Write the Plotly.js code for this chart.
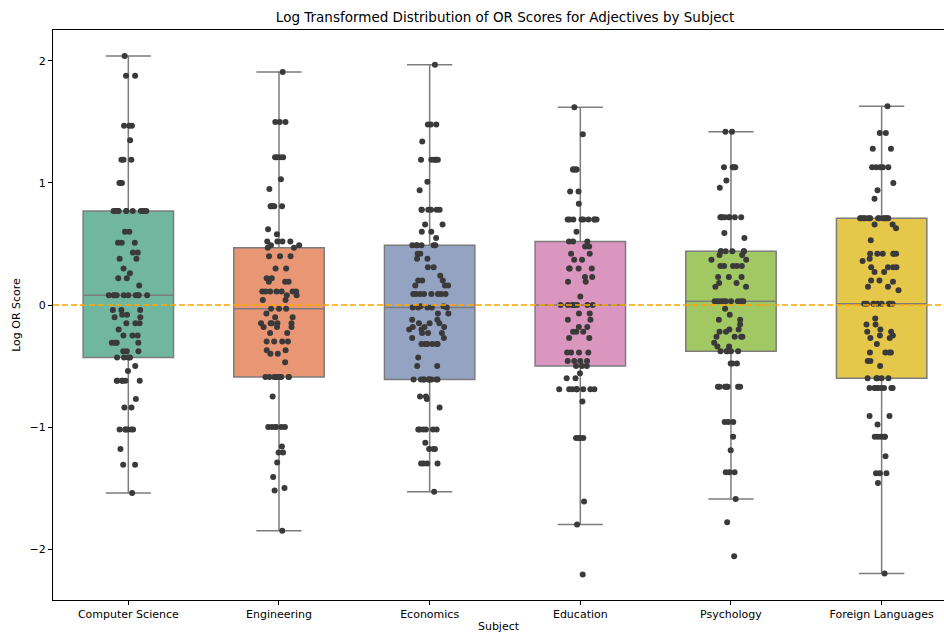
<!DOCTYPE html>
<html>
<head>
<meta charset="utf-8">
<script src="https://cdn.plot.ly/plotly-3.0.1.min.js"></script>
<style>html,body{margin:0;padding:0;background:#fff;}#chart{width:944px;height:633px;}</style>
</head>
<body>
<div id="chart"></div>
<script>
// Categories (x axis tick labels)
const categories = ["Computer Science", "Engineering", "Economics", "Education", "Psychology", "Foreign Languages"];

// Log OR scores per subject
const computerScience = [2.04, 1.88, 1.88, 1.47, 1.47, 1.47, 1.35, 1.19, 1.19, 1.19, 1.0, 1.0, 1.0,
  0.77, 0.77, 0.77, 0.77, 0.77, 0.77, 0.77, 0.77, 0.77, 0.77, 0.77, 0.77,
  0.60, 0.60, 0.51, 0.51, 0.51, 0.43, 0.43, 0.38, 0.38, 0.30, 0.26, 0.22, 0.22, 0.16,
  0.08, 0.08, 0.08, 0.08, 0.08, 0.08, 0.08, 0.08, 0.08, 0.08,
  -0.04, -0.04, -0.04, -0.08, -0.08, -0.10, -0.10, -0.15, -0.15, -0.15, -0.20,
  -0.25, -0.25, -0.25, -0.31, -0.31, -0.31, -0.31, -0.38, -0.38, -0.38,
  -0.43, -0.43, -0.43, -0.43,
  -0.50, -0.54, -0.62, -0.62, -0.62, -0.62, -0.62, -0.62, -0.77, -0.84, -0.84,
  -1.02, -1.02, -1.02, -1.02, -1.02, -1.02, -1.18, -1.31, -1.31, -1.54];

const engineering = [1.91, 1.50, 1.50, 1.50, 1.21, 1.21, 1.21, 1.21, 1.03, 0.95,
  0.81, 0.81, 0.81, 0.81, 0.81, 0.62, 0.58, 0.52, 0.52, 0.52, 0.52, 0.49, 0.49, 0.47, 0.47,
  0.40, 0.40, 0.40, 0.30, 0.30, 0.22, 0.22, 0.19, 0.19, 0.19,
  0.11, 0.11, 0.11, 0.11, 0.11, 0.11, 0.11, 0.08, 0.08, 0.04, 0.04,
  -0.03, -0.03, -0.03, -0.07, -0.10, -0.10, -0.15, -0.15, -0.15, -0.15, -0.15, -0.18, -0.18, -0.18,
  -0.23, -0.23, -0.30, -0.30, -0.30, -0.30, -0.37, -0.37, -0.40, -0.40, -0.47,
  -0.59, -0.59, -0.59, -0.59, -0.59, -0.59, -0.59, -0.59, -0.59, -0.59, -0.59, -0.75,
  -1.00, -1.00, -1.00, -1.00, -1.00, -1.00, -1.16, -1.21, -1.21, -1.29, -1.41, -1.52, -1.50, -1.85];

const economics = [1.97, 1.48, 1.48, 1.48, 1.34, 1.19, 1.19, 1.19, 1.19, 1.19, 1.01, 0.94,
  0.78, 0.78, 0.78, 0.78, 0.78, 0.78, 0.66, 0.66, 0.60, 0.60, 0.55,
  0.49, 0.49, 0.49, 0.49, 0.49, 0.49, 0.42, 0.42, 0.38, 0.38, 0.31, 0.31, 0.24, 0.20, 0.20, 0.20,
  0.16, 0.16, 0.16, 0.09, 0.09, 0.09, 0.09, 0.09, 0.09, 0.09, 0.09,
  -0.01, -0.01, -0.02, -0.02, -0.02, -0.02, -0.02, -0.07, -0.07, -0.12, -0.12, -0.15, -0.15, -0.15,
  -0.18, -0.18, -0.18, -0.20, -0.20, -0.23, -0.23, -0.23, -0.27, -0.27,
  -0.32, -0.32, -0.32, -0.32, -0.32, -0.32, -0.43, -0.50, -0.50,
  -0.61, -0.61, -0.61, -0.61, -0.61, -0.61, -0.61, -0.61, -0.61, -0.61,
  -0.75, -0.75, -0.77, -0.84,
  -1.02, -1.02, -1.02, -1.02, -1.02, -1.02, -1.13, -1.18, -1.18, -1.18,
  -1.30, -1.30, -1.30, -1.30, -1.53];

const education = [1.62, 1.40, 1.11, 1.11, 1.11, 1.11, 1.11, 0.93, 0.93, 0.83,
  0.70, 0.70, 0.70, 0.70, 0.70, 0.70, 0.70, 0.70, 0.70, 0.60, 0.52, 0.52, 0.52, 0.48, 0.48,
  0.42, 0.42, 0.37, 0.37, 0.30, 0.30, 0.30, 0.30, 0.23, 0.23, 0.19, 0.19, 0.07,
  0.00, 0.00, 0.00, 0.00, 0.00, 0.00, 0.00, 0.00,
  -0.07, -0.07, -0.12, -0.12, -0.18, -0.18, -0.22, -0.22, -0.22, -0.27, -0.27,
  -0.39, -0.39, -0.39, -0.39, -0.46, -0.46, -0.46, -0.46, -0.50, -0.50, -0.50, -0.56,
  -0.60, -0.60, -0.69, -0.69, -0.69, -0.69, -0.69, -0.69, -0.69, -0.69, -0.69, -0.79,
  -1.09, -1.09, -1.09, -1.09, -1.61, -1.80, -2.21];

const psychology = [1.42, 1.42, 1.13, 1.13, 1.13, 1.13, 1.02, 0.96,
  0.72, 0.72, 0.72, 0.72, 0.72, 0.72, 0.72, 0.72, 0.59, 0.55,
  0.44, 0.44, 0.44, 0.44, 0.44, 0.44, 0.41, 0.41, 0.37, 0.37, 0.32, 0.32, 0.32, 0.32, 0.32,
  0.23, 0.23, 0.23, 0.18, 0.18, 0.15, 0.15,
  0.03, 0.03, 0.03, 0.03, 0.03, 0.03, 0.03, 0.03, 0.03,
  -0.03, -0.08, -0.12, -0.12, -0.16, -0.20, -0.20, -0.22, -0.22, -0.26, -0.26, -0.26, -0.26,
  -0.31, -0.34, -0.34, -0.38, -0.38, -0.38, -0.38, -0.38, -0.48, -0.48, -0.48,
  -0.67, -0.67, -0.67, -0.67, -0.67, -0.67, -0.67, -0.67, -0.96, -0.96, -0.96,
  -1.08, -1.19, -1.37, -1.37, -1.37, -1.59, -1.78, -2.06];

const foreignLanguages = [1.63, 1.41, 1.41, 1.28, 1.28, 1.13, 1.13, 1.13, 1.13, 1.13, 1.00, 0.94, 0.87,
  0.71, 0.71, 0.71, 0.71, 0.71, 0.71, 0.71, 0.71, 0.71, 0.71, 0.71, 0.71, 0.71, 0.71,
  0.66, 0.66, 0.63, 0.53,
  0.42, 0.42, 0.42, 0.42, 0.42, 0.42, 0.38, 0.36, 0.31, 0.31, 0.31, 0.31, 0.27, 0.27,
  0.20, 0.20, 0.19, 0.15, 0.15, 0.12,
  0.01, 0.01, 0.01, 0.01, 0.01, 0.01, 0.01, 0.01,
  -0.11, -0.16, -0.16, -0.20, -0.22, -0.22, -0.25, -0.25, -0.27, -0.27, -0.32,
  -0.39, -0.39, -0.39, -0.39, -0.46, -0.46, -0.50, -0.60, -0.60, -0.60, -0.60, -0.60,
  -0.68, -0.68, -0.68, -0.68, -0.68, -0.68, -0.68, -0.68, -0.91, -0.91, -0.98,
  -1.08, -1.08, -1.08, -1.08, -1.08, -1.24, -1.38, -1.38, -1.38, -1.46, -2.20];

const seriesValues = [computerScience, engineering, economics, education, psychology, foreignLanguages];
const boxColors = ["#71b7a0", "#e99675", "#95a3c3", "#db96c0", "#a2c864", "#e5c849"];

const traces = categories.map((cat, i) => ({
  type: "box",
  name: cat,
  x0: cat,
  y: seriesValues[i],
  width: 0.6,
  boxpoints: "all",
  jitter: 0.48,
  pointpos: 0,
  quartilemethod: "inclusive",
  fillcolor: boxColors[i],
  line: {color: "#7c7c7c", width: 1.5},
  whiskerwidth: 0.5,
  marker: {color: "#3a3a3a", size: 6, line: {width: 0}},
  showlegend: false,
  hoverinfo: "y"
}));

const layout = {
  width: 944,
  height: 633,
  margin: {l: 53, r: 0, t: 30, b: 33},
  paper_bgcolor: "#ffffff",
  plot_bgcolor: "#ffffff",
  font: {family: "DejaVu Sans, sans-serif", size: 11, color: "#000"},
  title: {
    text: "Log Transformed Distribution of OR Scores for Adjectives by Subject",
    font: {size: 13.5, color: "#000"},
    xref: "container", x: 0.535, xanchor: "center",
    yref: "container", y: 0.972, yanchor: "middle"
  },
  boxmode: "overlay",
  xaxis: {
    type: "category",
    categoryorder: "array",
    categoryarray: categories,
    range: [-0.5, 5.414],
    showline: true, mirror: true, linecolor: "#000", linewidth: 1,
    ticks: "outside", ticklen: 4, tickcolor: "#000",
    showgrid: false, zeroline: false,
    tickfont: {size: 11},
    title: {text: "Subject", font: {size: 11}, standoff: 6},
    automargin: false
  },
  yaxis: {
    range: [-2.418, 2.254],
    tickvals: [-2, -1, 0, 1, 2],
    showline: true, mirror: false, linecolor: "#000", linewidth: 1,
    ticks: "outside", ticklen: 4, tickcolor: "#000",
    showgrid: false, zeroline: false,
    tickfont: {size: 11},
    title: {text: "Log OR Score", font: {size: 11}, standoff: 6},
    automargin: false
  },
  shapes: [{
    type: "line", xref: "paper", yref: "y",
    x0: 0, x1: 1, y0: 0, y1: 0,
    line: {color: "#FFA500", width: 1.5, dash: "6px,3px"},
    layer: "above"
  }]
};

Plotly.newPlot("chart", traces, layout, {displayModeBar: false, staticPlot: true});
</script>
</body>
</html>
